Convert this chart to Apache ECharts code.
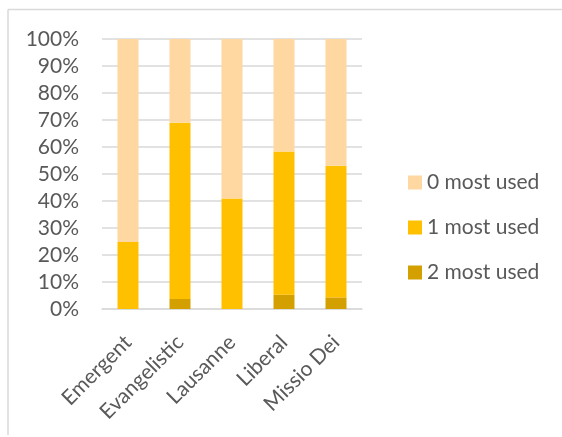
<!DOCTYPE html>
<html>
<head>
<meta charset="utf-8">
<script src="https://cdn.jsdelivr.net/npm/echarts@6/dist/echarts.min.js"></script>
<style>
  html, body { margin: 0; padding: 0; background: #fff; }
  #chart { width: 562px; height: 437px; }
</style>
</head>
<body>
<div id="chart"></div>
<script>
// Share of each approach, percent of responses (stacked to 100%)
const categories = ['Emergent', 'Evangelistic', 'Lausanne', 'Liberal', 'Missio Dei'];
const twoMostUsed = [0, 3.7, 0, 5.3, 4.3];
const oneMostUsed = [24.8, 65.3, 40.9, 53.0, 48.8];
const zeroMostUsed = [75.2, 31.0, 59.1, 41.7, 46.9];
const yTicks = [0, 10, 20, 30, 40, 50, 60, 70, 80, 90, 100];

const labelColor = '#595959';
const fontFamily = 'Lato, "Liberation Sans", sans-serif';

const chart = echarts.init(document.getElementById('chart'));

chart.setOption({
  animation: false,
  backgroundColor: '#ffffff',
  graphic: [
    { type: 'line', shape: { x1: 8, y1: 9.5, x2: 562, y2: 9.5 }, style: { stroke: '#d9d9d9', lineWidth: 1.5 } },
    { type: 'line', shape: { x1: 8, y1: 9.5, x2: 8, y2: 435 }, style: { stroke: '#d9d9d9', lineWidth: 1.5 } }
  ],
  grid: { left: 102, right: 200, top: 39, bottom: 128, containLabel: false },
  legend: {
    orient: 'vertical',
    left: 403,
    top: 167,
    itemWidth: 14,
    itemHeight: 14,
    itemGap: 24,
    itemTextGap: 5,
    icon: 'rect',
    textStyle: { color: labelColor, fontSize: 21, fontFamily: fontFamily },
    data: ['0 most used', '1 most used', '2 most used']
  },
  xAxis: {
    type: 'category',
    data: categories,
    axisLine: { show: true, lineStyle: { color: '#d9d9d9', width: 1.5 } },
    axisTick: { show: false },
    axisLabel: {
      rotate: 45,
      interval: 0,
      margin: 30,
      color: labelColor,
      fontSize: 21,
      fontFamily: fontFamily
    }
  },
  yAxis: {
    type: 'value',
    min: yTicks[0],
    max: yTicks[yTicks.length - 1],
    interval: 10,
    axisLine: { show: false },
    axisTick: { show: false },
    splitLine: { lineStyle: { color: '#d9d9d9', width: 1.5 } },
    axisLabel: {
      margin: 23,
      color: labelColor,
      fontSize: 21,
      fontFamily: fontFamily,
      formatter: v => v + '%'
    }
  },
  series: [
    {
      name: '2 most used', type: 'bar', stack: 'total', barWidth: 21,
      itemStyle: { color: '#D3A000' }, data: twoMostUsed
    },
    {
      name: '1 most used', type: 'bar', stack: 'total', barWidth: 21,
      itemStyle: { color: '#FFC000' }, data: oneMostUsed
    },
    {
      name: '0 most used', type: 'bar', stack: 'total', barWidth: 21,
      itemStyle: { color: '#FED8A0' }, data: zeroMostUsed
    }
  ]
});
</script>
</body>
</html>
